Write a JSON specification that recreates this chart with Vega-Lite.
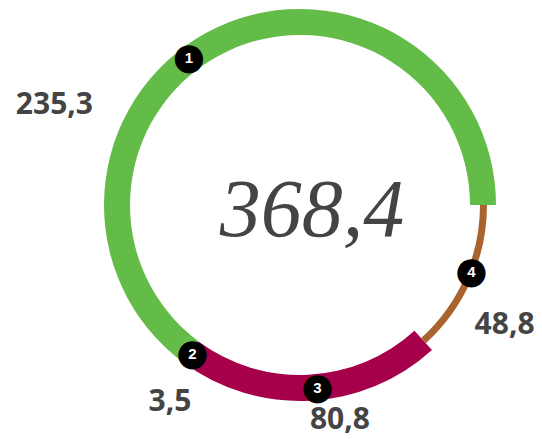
{
  "$schema": "https://vega.github.io/schema/vega-lite/v6.json",
  "width": 484,
  "height": 410,
  "autosize": {"type": "none"},
  "padding": {"left": 58, "top": 0, "right": 0, "bottom": 29},
  "background": "white",
  "config": {
    "view": {"stroke": null},
    "locale": {"number": {"decimal": ",", "thousands": ".", "grouping": [3], "currency": ["", " €"]}}
  },
  "resolve": {"scale": {"theta": "shared"}},
  "data": {
    "values": [
      {"n": 1, "value": 235.3},
      {"n": 2, "value": 3.5},
      {"n": 3, "value": 80.8},
      {"n": 4, "value": 48.8}
    ]
  },
  "transform": [
    {"stack": "value", "groupby": [], "sort": [{"field": "n", "order": "descending"}], "as": ["v0", "v1"]},
    {"calculate": "(datum.v0 + datum.v1) / 2", "as": "vmid"}
  ],
  "layer": [
    {
      "transform": [{"filter": "datum.n != 4"}],
      "mark": {"type": "arc", "innerRadius": 170, "outerRadius": 196},
      "encoding": {
        "theta": {"field": "v0", "type": "quantitative", "stack": null, "scale": {"domain": [0, 368.4], "range": [1.5707963, 7.8539816], "zero": true, "nice": false}},
        "theta2": {"field": "v1"},
        "color": {"field": "n", "type": "nominal", "scale": {"domain": [1, 2, 3, 4], "range": ["#63BB48", "#63BB48", "#A6004A", "#A8632F"]}, "legend": null}
      }
    },
    {
      "transform": [{"filter": "datum.n == 4"}],
      "mark": {"type": "arc", "innerRadius": 180, "outerRadius": 187},
      "encoding": {
        "theta": {"field": "v0", "type": "quantitative", "stack": null, "scale": {"domain": [0, 368.4], "range": [1.5707963, 7.8539816], "zero": true, "nice": false}},
        "theta2": {"field": "v1"},
        "color": {"field": "n", "type": "nominal", "legend": null}
      }
    },
    {
      "transform": [{"filter": "datum.n != 1"}],
      "mark": {"type": "text", "text": "●", "font": "DejaVu Sans", "fontSize": 37, "color": "#000000", "radius": 184, "thetaOffset": -0.045, "baseline": "middle", "align": "center"},
      "encoding": {"theta": {"field": "vmid", "type": "quantitative", "stack": null, "scale": {"domain": [0, 368.4], "range": [1.5707963, 7.8539816], "zero": true, "nice": false}}}
    },
    {
      "transform": [{"filter": "datum.n == 1"}],
      "mark": {"type": "text", "text": "●", "font": "DejaVu Sans", "fontSize": 37, "color": "#000000", "radius": 184, "thetaOffset": -0.213, "baseline": "middle", "align": "center"},
      "encoding": {"theta": {"field": "vmid", "type": "quantitative", "stack": null, "scale": {"domain": [0, 368.4], "range": [1.5707963, 7.8539816], "zero": true, "nice": false}}}
    },
    {
      "transform": [{"filter": "datum.n != 1"}],
      "mark": {"type": "text", "font": "Liberation Sans", "fontWeight": "bold", "fontSize": 15, "color": "#ffffff", "radius": 184, "thetaOffset": -0.045, "baseline": "middle", "align": "center"},
      "encoding": {"theta": {"field": "vmid", "type": "quantitative", "stack": null, "scale": {"domain": [0, 368.4], "range": [1.5707963, 7.8539816], "zero": true, "nice": false}}, "text": {"field": "n", "type": "nominal"}}
    },
    {
      "transform": [{"filter": "datum.n == 1"}],
      "mark": {"type": "text", "font": "Liberation Sans", "fontWeight": "bold", "fontSize": 15, "color": "#ffffff", "radius": 184, "thetaOffset": -0.213, "baseline": "middle", "align": "center"},
      "encoding": {"theta": {"field": "vmid", "type": "quantitative", "stack": null, "scale": {"domain": [0, 368.4], "range": [1.5707963, 7.8539816], "zero": true, "nice": false}}, "text": {"field": "n", "type": "nominal"}}
    },
    {
      "transform": [{"filter": "datum.n == 1"}],
      "mark": {"type": "text", "font": "Open Sans", "fontWeight": "bold", "fontSize": 30, "color": "#444444", "radius": 265, "thetaOffset": -0.75, "baseline": "middle", "align": "center"},
      "encoding": {"theta": {"field": "vmid", "type": "quantitative", "stack": null, "scale": {"domain": [0, 368.4], "range": [1.5707963, 7.8539816], "zero": true, "nice": false}}, "text": {"field": "value", "type": "quantitative", "format": ".1f"}}
    },
    {
      "transform": [{"filter": "datum.n == 2"}],
      "mark": {"type": "text", "font": "Open Sans", "fontWeight": "bold", "fontSize": 30, "color": "#444444", "radius": 236, "thetaOffset": -0.086, "baseline": "middle", "align": "center"},
      "encoding": {"theta": {"field": "vmid", "type": "quantitative", "stack": null, "scale": {"domain": [0, 368.4], "range": [1.5707963, 7.8539816], "zero": true, "nice": false}}, "text": {"field": "value", "type": "quantitative", "format": ".1f"}}
    },
    {
      "transform": [{"filter": "datum.n == 3"}],
      "mark": {"type": "text", "font": "Open Sans", "fontWeight": "bold", "fontSize": 30, "color": "#444444", "radius": 219, "thetaOffset": -0.134, "baseline": "middle", "align": "center"},
      "encoding": {"theta": {"field": "vmid", "type": "quantitative", "stack": null, "scale": {"domain": [0, 368.4], "range": [1.5707963, 7.8539816], "zero": true, "nice": false}}, "text": {"field": "value", "type": "quantitative", "format": ".1f"}}
    },
    {
      "transform": [{"filter": "datum.n == 4"}],
      "mark": {"type": "text", "font": "Open Sans", "fontWeight": "bold", "fontSize": 30, "color": "#444444", "radius": 237, "thetaOffset": 0.113, "baseline": "middle", "align": "center"},
      "encoding": {"theta": {"field": "vmid", "type": "quantitative", "stack": null, "scale": {"domain": [0, 368.4], "range": [1.5707963, 7.8539816], "zero": true, "nice": false}}, "text": {"field": "value", "type": "quantitative", "format": ".1f"}}
    },
    {
      "transform": [{"aggregate": [{"op": "sum", "field": "value", "as": "total"}]}],
      "mark": {"type": "text", "font": "Liberation Serif", "fontStyle": "italic", "fontSize": 82, "color": "#444444", "baseline": "middle", "align": "center", "dx": 12, "dy": 6},
      "encoding": {"text": {"field": "total", "type": "quantitative", "format": ".1f"}}
    }
  ]
}
